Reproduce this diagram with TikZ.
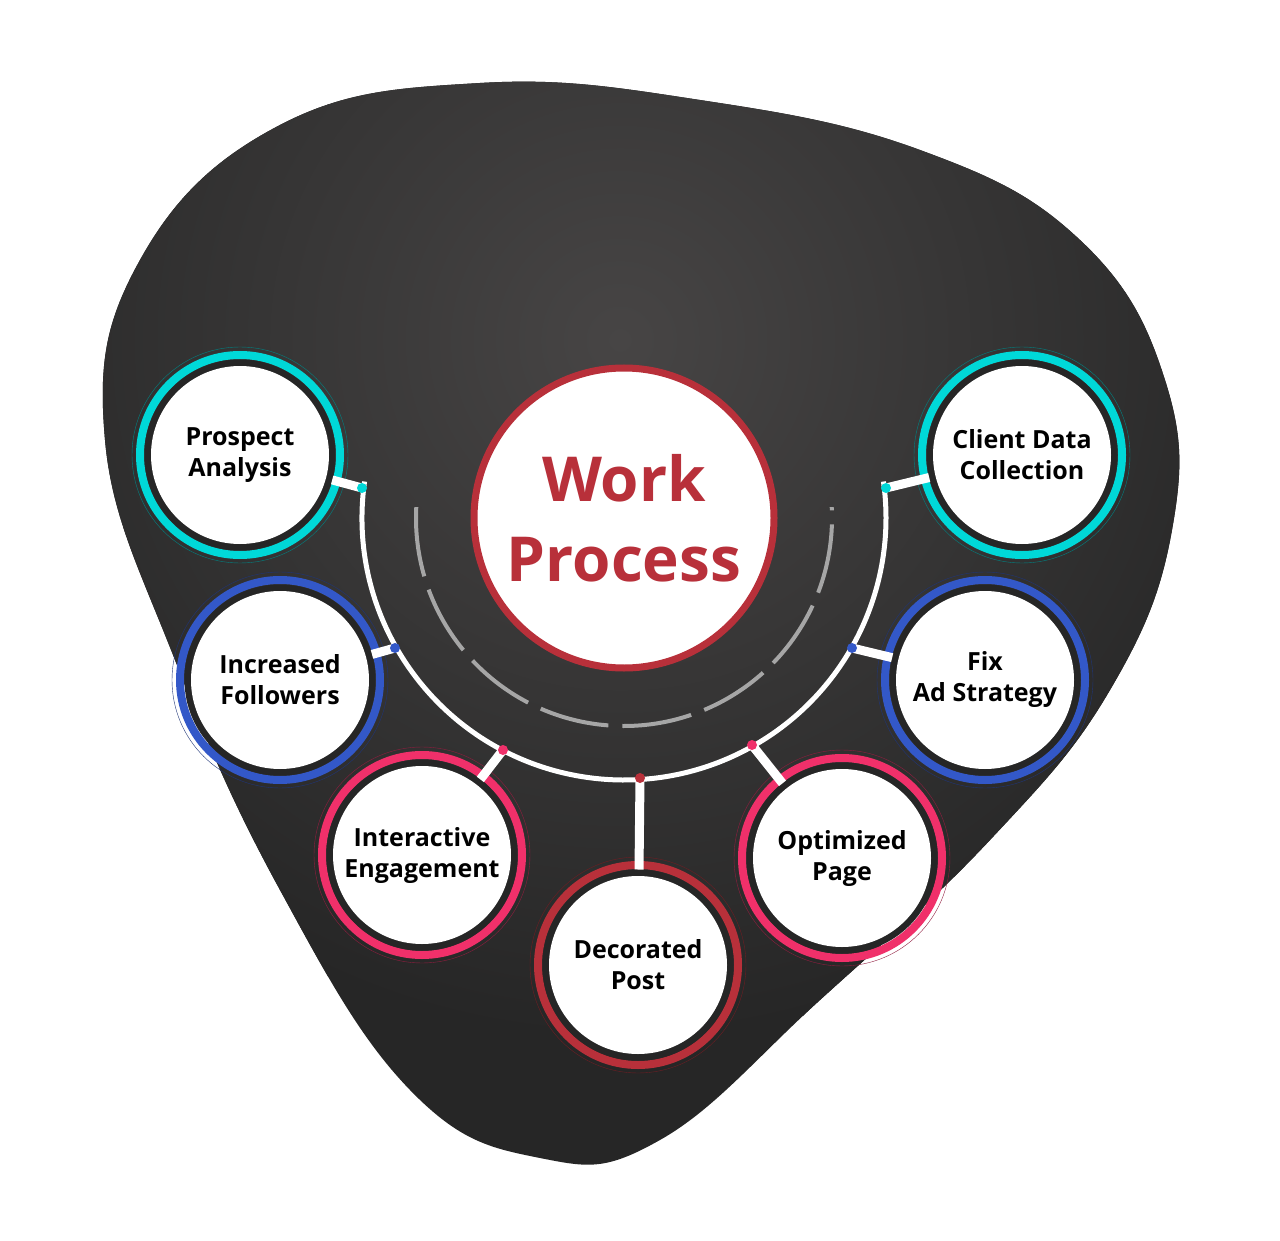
\documentclass[tikz,border=0pt]{standalone}
\usepackage{fontspec}
\setmainfont{Open Sans}
\begin{document}
\begin{tikzpicture}[x=1pt,y=-1pt,
  sat/.style={circle,fill=white,draw=black!85,line width=7pt,minimum size=184pt,align=center,font=\fontsize{25}{31}\selectfont\bfseries,inner sep=0pt},
  ring/.style={line width=8pt},
  lab/.style={align=center,font=\fontsize{25}{31}\selectfont\bfseries},
  stub/.style={white,line width=9pt}]
\definecolor{cy}{HTML}{00D8D8}
\definecolor{bl}{HTML}{3358C8}
\definecolor{pk}{HTML}{F0306A}
\definecolor{rd}{HTML}{B8303A}
\definecolor{bg}{HTML}{262626}
\definecolor{bgc}{HTML}{474545}
\useasboundingbox (0,0) rectangle (1280,1241);
\def\blob{plot[smooth cycle,tension=0.7] coordinates {(480,83)(700,100)(920,150)(1080,240)(1165,380)(1172,530)(1110,690)(990,840)(820,1000)(660,1140)(540,1158)(410,1090)(280,890)(175,660)(105,440)(140,260)(280,125)}}
\path[fill=bg] \blob;
\begin{scope}
\clip \blob;
\shade[inner color=bgc,outer color=bg] (620,340) circle (700);
\end{scope}
% central
\node[circle,fill=white,draw=rd,line width=7pt,minimum size=300pt,inner sep=0pt,align=center,text=rd,font=\fontsize{62}{80}\selectfont\bfseries] (wp) at (624,518) {Work\\Process};
% arcs
\draw[white,line width=5pt] ([shift={(188:262)}]624,518) arc[start angle=188,end angle=-8,radius=262];
\draw[gray!70,line width=4pt,dash pattern=on 70pt off 14pt] ([shift={(183:208)}]624,518) arc[start angle=183,end angle=-3,radius=208];
% satellites
\foreach \n/\x/\y/\c in {pa/240/455/cy,cd/1022/455/cy,inc/280/680/bl,fx/985/680/bl,ie/422/855/pk,op/842/858/pk,dp/638/965/rd}{
  \draw[\c,ring] (\x,\y) circle (100);
  \draw[\c!60!black,line width=0.4pt] (\x,\y) circle (108);
  \node[sat] (\n) at (\x,\y) {};
}
% connectors
\foreach \n/\px/\py/\c in {pa/362/488/cy,cd/886/488/cy,inc/395/648/bl,fx/852/648/bl,ie/503/750/pk,op/752/745/pk,dp/640/778/rd}{
  \coordinate (c\n) at (\px,\py);
  \draw[stub] (c\n) -- (\n);
  \fill[\c] (c\n) circle (5);
}
\foreach \n in {pa,cd,inc,fx,ie,op,dp}{\node[sat,draw=none,minimum size=178pt] at (\n) {};}
\node[lab] at (pa) {Prospect\\Analysis};
\node[lab] at (cd) {Client Data\\Collection};
\node[lab] at (inc) {Increased\\Followers};
\node[lab] at (fx) {Fix\\Ad Strategy};
\node[lab] at (ie) {Interactive\\Engagement};
\node[lab] at (op) {Optimized\\Page};
\node[lab] at (dp) {Decorated\\Post};
\end{tikzpicture}
\end{document}
